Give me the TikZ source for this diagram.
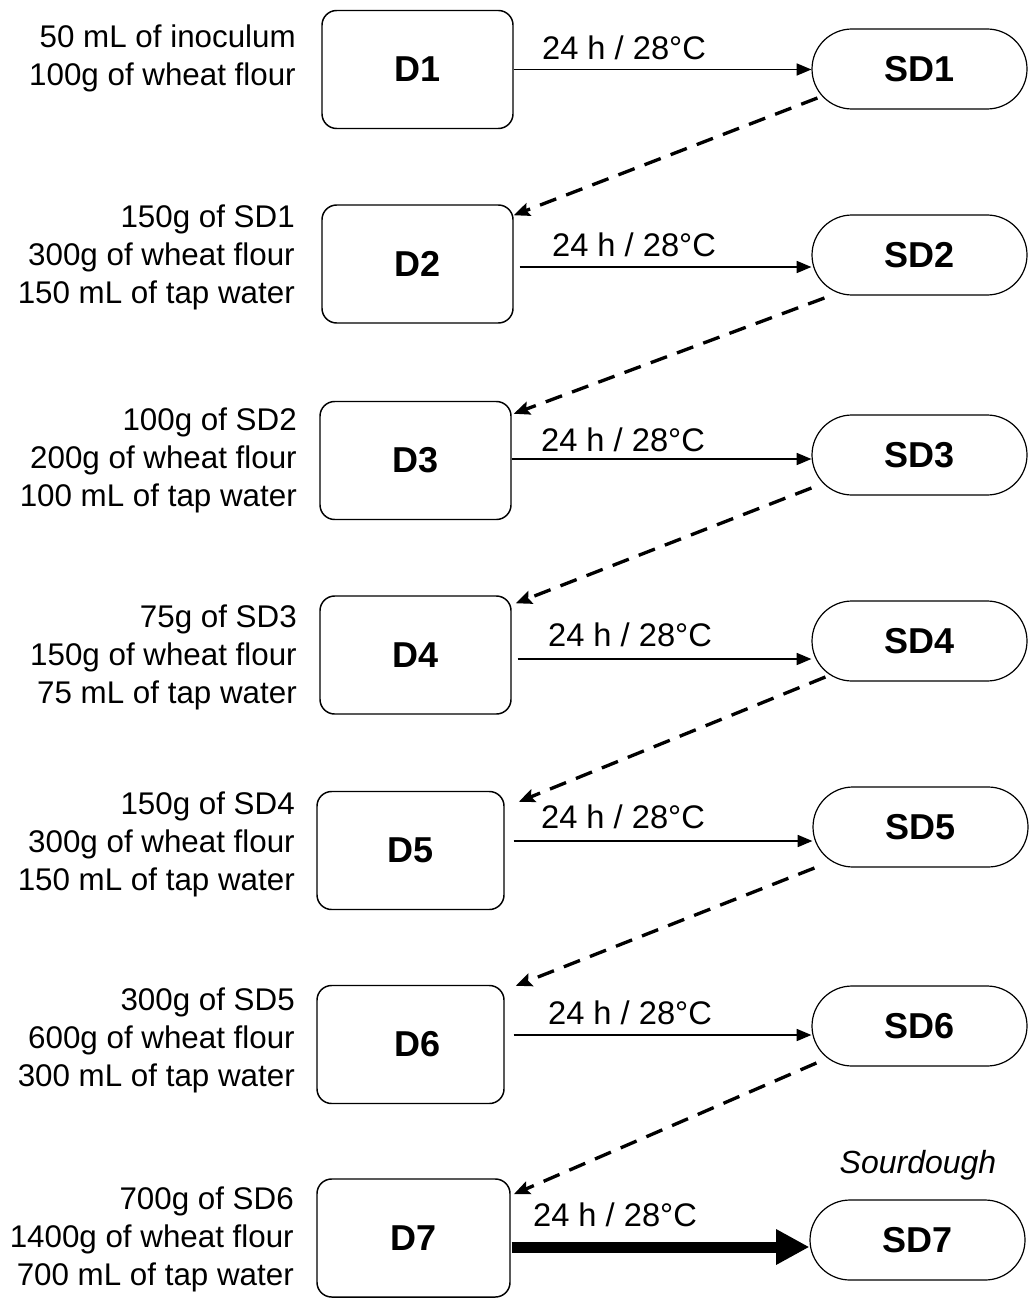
\documentclass[tikz,border=0pt]{standalone}
\usepackage{fontspec}
\setmainfont{Liberation Sans}
\usetikzlibrary{arrows.meta}
\begin{document}
\begin{tikzpicture}[x=0.75pt,y=-0.75pt,
  dbox/.style={draw, line width=1.1pt, rounded corners=11pt, minimum width=143.25pt, minimum height=88.5pt, inner sep=0pt, font=\fontsize{27}{30}\selectfont\bfseries},
  sdbox/.style={draw, line width=0.9pt, rounded corners=30pt, minimum width=161.25pt, minimum height=60pt, inner sep=0pt, font=\fontsize{27}{30}\selectfont\bfseries},
  recipe/.style={anchor=east, align=right, inner sep=0pt, font=\fontsize{23.5}{28.5}\selectfont},
  cond/.style={inner sep=0pt, font=\fontsize{24.5}{28}\selectfont},
  flow/.style={line width=1.1pt, -{Triangle[length=11pt,width=9pt]}},
  bigflow/.style={line width=8.25pt, -{Triangle[length=25pt,width=25pt]}},
  feed/.style={line width=2.5pt, dash pattern=on 13pt off 8pt, -{Stealth[length=12pt,width=10pt,inset=2pt]}}
]
\useasboundingbox (0,0) rectangle (1028,1298);

% D boxes
\node[dbox] (d1) at (417.5,69.5) {D1};
\node[dbox] (d2) at (417.5,264) {D2};
\node[dbox] (d3) at (415.5,460.5) {D3};
\node[dbox] (d4) at (415.5,655) {D4};
\node[dbox, minimum width=140.25pt] (d5) at (410.5,850.5) {D5};
\node[dbox, minimum width=140.25pt] (d6) at (410.5,1044.5) {\hspace*{10.5pt}D6};
\node[dbox, minimum width=144.75pt] (d7) at (413.5,1238) {D7};

% SD boxes
\node[sdbox] (sd1) at (919.5,69) {SD1};
\node[sdbox] (sd2) at (919.5,255) {SD2};
\node[sdbox] (sd3) at (919.5,455) {SD3};
\node[sdbox] (sd4) at (919.5,641) {SD4};
\node[sdbox] (sd5) at (920.5,827) {SD5};
\node[sdbox] (sd6) at (919.5,1026) {SD6};
\node[sdbox] (sd7) at (917.5,1240) {SD7};

% recipes
\node[recipe] (r1) at (296,58.5) {50 mL of inoculum\\100g of wheat flour};
\node[recipe] (r2) at (295,257.5) {150g of SD1\\300g of wheat flour\\150 mL of tap water};
\node[recipe] (r3) at (297,460) {100g of SD2\\200g of wheat flour\\100 mL of tap water};
\node[recipe] (r4) at (297,657.5) {75g of SD3\\150g of wheat flour\\75 mL of tap water};
\node[recipe] (r5) at (295,844.5) {150g of SD4\\300g of wheat flour\\150 mL of tap water};
\node[recipe] (r6) at (295,1040) {300g of SD5\\600g of wheat flour\\300 mL of tap water};
\node[recipe] (r7) at (294,1239.5) {700g of SD6\\1400g of wheat flour\\700 mL of tap water};

% condition labels
\node[cond] (c1) at (624,48) {24 h / 28°C};
\node[cond] (c2) at (634,245) {24 h / 28°C};
\node[cond] (c3) at (623,440) {24 h / 28°C};
\node[cond] (c4) at (630,635) {24 h / 28°C};
\node[cond] (c5) at (623,817) {24 h / 28°C};
\node[cond] (c6) at (630,1013) {24 h / 28°C};
\node[cond] (c7) at (615,1215) {24 h / 28°C};
\node[cond, font=\fontsize{24}{28}\selectfont\itshape] (sour) at (918,1165) {Sourdough};

% horizontal arrows
\coordinate (a1) at ([shift={(0,0)}]d1.east);
\coordinate (a2) at ([shift={(6,3)}]d2.east);
\coordinate (a3) at ([shift={(0,-1.5)}]d3.east);
\coordinate (a4) at ([shift={(6,4)}]d4.east);
\coordinate (a5) at ([shift={(9,-9.5)}]d5.east);
\coordinate (a6) at ([shift={(9,-9.5)}]d6.east);
\coordinate (a7) at ([shift={(1,9)}]d7.east);
\draw[flow] (a1) -- (a1 -| sd1.west);
\draw[flow] (a2) -- (a2 -| sd2.west);
\draw[flow] (a3) -- (a3 -| sd3.west);
\draw[flow] (a4) -- (a4 -| sd4.west);
\draw[flow] (a5) -- (a5 -| sd5.west);
\draw[flow] (a6) -- (a6 -| sd6.west);
\draw[bigflow] (a7) -- (a7 -| sd7.west);

% dashed feed arrows
\draw[feed] ([shift={(6,29)}]sd1.west) -- ([shift={(0,11)}]d2.north east);
\draw[feed] ([shift={(13,43)}]sd2.west) -- ([shift={(2,13)}]d3.north east);
\draw[feed] ([shift={(0,33)}]sd3.west) -- ([shift={(4,8)}]d4.north east);
\draw[feed] ([shift={(14,36)}]sd4.west) -- ([shift={(14,11)}]d5.north east);
\draw[feed] ([shift={(2,41)}]sd5.west) -- ([shift={(11,1)}]d6.north east);
\draw[feed] ([shift={(5,37)}]sd6.west) -- ([shift={(3,16)}]d7.north east);
\end{tikzpicture}
\end{document}
